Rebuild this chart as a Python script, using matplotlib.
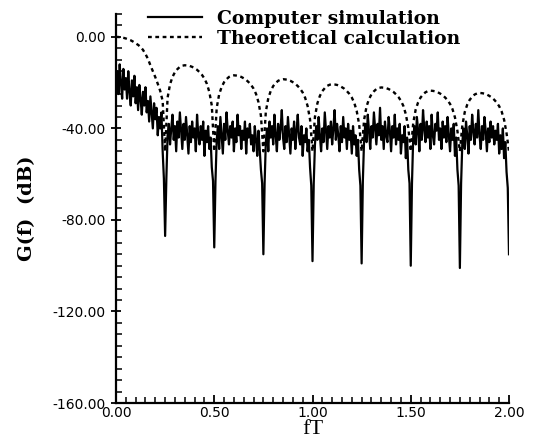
import numpy as np
import matplotlib
matplotlib.use("Agg")
import matplotlib.pyplot as plt
from matplotlib.ticker import MultipleLocator

# ---- data ----
# theoretical curve, sampled every 0.0125 in fT (nulls at multiples of 0.25)
theo_main = [0, -0.05, -0.2, -0.4, -0.7, -1.1, -1.5, -2.1, -2.8, -3.5,
             -4.4, -5.7, -7.5, -9.6, -12.4, -15.0, -17.6, -20.5, -23.6, -28.0]
theo_null = -50
theo_lobe1 = [-26.6, -20.7, -17.5, -15.4, -14.1, -13.1, -12.6, -12.4, -12.5, -12.7,
              -13.1, -13.7, -14.4, -15.4, -16.6, -18.2, -20.5, -24.1, -30.0]
theo_lobe2 = [-31.0, -25.1, -21.9, -19.8, -18.5, -17.5, -17.0, -16.8, -16.9, -17.1,
              -17.5, -18.1, -18.8, -19.8, -21.0, -22.6, -24.9, -28.5, -34.4]
theo_lobe3 = [-32.7, -26.8, -23.6, -21.5, -20.2, -19.2, -18.7, -18.5, -18.6, -18.8,
              -19.2, -19.8, -20.5, -21.5, -22.7, -24.3, -26.6, -30.2, -36.1]
theo_lobe4 = [-34.9, -29.0, -25.8, -23.7, -22.4, -21.4, -20.9, -20.7, -20.8, -21.0,
              -21.4, -22.0, -22.7, -23.7, -24.9, -26.5, -28.8, -32.4, -38.3]
theo_lobe5 = [-36.3, -30.4, -27.2, -25.1, -23.8, -22.8, -22.3, -22.1, -22.2, -22.4,
              -22.8, -23.4, -24.1, -25.1, -26.3, -27.9, -30.2, -33.8, -39.7]
theo_lobe6 = [-37.7, -31.8, -28.6, -26.5, -25.2, -24.2, -23.7, -23.5, -23.6, -23.8,
              -24.2, -24.8, -25.5, -26.5, -27.7, -29.3, -31.6, -35.2, -41.1]
theo_lobe7 = [-38.7, -32.8, -29.6, -27.5, -26.2, -25.2, -24.7, -24.5, -24.6, -24.8,
              -25.2, -25.8, -26.5, -27.5, -28.7, -30.3, -32.6, -36.2, -42.1]

# computer simulation, sampled every 0.00625 in fT
sim_seg0 = [-22, -15, -25, -12, -20, -27, -14, -23, -18, -27, -15, -24, -30, -19, -26, -17,
            -29, -22, -32, -21, -27, -34, -24, -30, -22, -33, -28, -37, -26, -33, -40, -29,
            -36, -31, -43, -35, -40, -33, -50, -62]
sim_seg1 = [-87, -62, -43, -38, -47, -40, -34, -45, -39, -50, -37, -44, -33, -41, -49, -38,
            -45, -35, -43, -51, -39, -46, -37, -44, -40, -50, -34, -43, -47, -39, -45, -37,
            -52, -41, -46, -39, -49, -44, -57, -63]
sim_seg2 = [-92, -63, -45, -39, -49, -35, -43, -51, -38, -45, -33, -41, -47, -39, -44, -37,
            -50, -40, -46, -34, -43, -39, -49, -41, -45, -37, -51, -40, -44, -38, -47, -43,
            -50, -39, -45, -52, -41, -49, -58, -64]
sim_seg3 = [-95, -64, -46, -40, -50, -37, -44, -39, -47, -34, -43, -50, -38, -45, -40, -32,
            -44, -49, -39, -46, -35, -43, -51, -40, -45, -37, -49, -41, -34, -44, -47, -39,
            -52, -43, -46, -40, -50, -45, -57, -65]
sim_seg4 = [-98, -64, -47, -39, -45, -35, -43, -50, -40, -46, -33, -41, -49, -39, -44, -37,
            -47, -40, -32, -45, -38, -43, -50, -39, -46, -35, -44, -40, -49, -38, -45, -41,
            -51, -39, -47, -43, -52, -45, -58, -65]
sim_seg5 = [-99, -63, -45, -38, -46, -34, -41, -49, -39, -44, -33, -40, -47, -38, -43, -31,
            -45, -39, -49, -37, -43, -46, -35, -41, -50, -39, -44, -34, -47, -40, -45, -38,
            -51, -43, -46, -39, -53, -44, -58, -64]
sim_seg6 = [-100, -64, -44, -39, -47, -35, -41, -50, -38, -45, -32, -40, -46, -37, -44, -39,
            -49, -34, -43, -47, -38, -41, -33, -45, -40, -49, -37, -44, -39, -46, -35, -43,
            -50, -40, -45, -38, -52, -44, -58, -65]
sim_seg7 = [-101, -64, -46, -40, -49, -37, -43, -51, -39, -45, -34, -41, -47, -38, -44, -32,
            -43, -49, -39, -45, -35, -41, -50, -40, -46, -37, -44, -39, -47, -41, -45, -38,
            -51, -43, -49, -40, -53, -46, -59, -66]
sim_end = -95

yticks = [0, -40, -80, -120, -160]
ytick_labels = ["0.00", "-40.00", "-80.00", "-120.00", "-160.00"]
xticks = [0, 0.5, 1.0, 1.5, 2.0]
xtick_labels = ["0.00", "0.50", "1.00", "1.50", "2.00"]

theo = (theo_main + [theo_null] + theo_lobe1 + [theo_null] + theo_lobe2 + [theo_null]
        + theo_lobe3 + [theo_null] + theo_lobe4 + [theo_null] + theo_lobe5 + [theo_null]
        + theo_lobe6 + [theo_null] + theo_lobe7 + [theo_null])
theo_f = np.linspace(0, 2, len(theo))

sim = (sim_seg0 + sim_seg1 + sim_seg2 + sim_seg3 + sim_seg4 + sim_seg5
       + sim_seg6 + sim_seg7 + [sim_end])
sim_f = np.linspace(0, 2, len(sim))

fig = plt.figure(figsize=(5.35, 4.44), dpi=100)
ax = fig.add_axes([116/535, 1-403/444, 393/535, 389/444])

ax.plot(sim_f, sim, color="black", lw=1.6, label="Computer simulation")
ax.plot(theo_f, theo, color="black", lw=1.7, linestyle=(0, (1.6, 1.5)),
        label="Theoretical calculation")

ax.set_xlim(0, 2)
ax.set_ylim(-160, 10)
ax.spines["top"].set_visible(False)
ax.spines["right"].set_visible(False)
ax.spines["left"].set_linewidth(1.6)
ax.spines["bottom"].set_linewidth(1.6)

ax.set_yticks(yticks)
ax.set_yticklabels(ytick_labels)
ax.set_xticks(xticks)
ax.set_xticklabels(xtick_labels)
ax.yaxis.set_minor_locator(MultipleLocator(5))
ax.xaxis.set_minor_locator(MultipleLocator(0.05))
ax.tick_params(axis="y", which="major", direction="inout", length=7, width=1.3,
               labelsize=10, pad=4)
ax.tick_params(axis="x", which="major", direction="in", length=6, width=1.3,
               labelsize=10, pad=2)
ax.tick_params(which="minor", direction="in", length=4, width=1.1)

ax.set_ylabel("G(f)  (dB)", family="DejaVu Serif", fontweight="bold", fontsize=14, labelpad=12)
ax.set_xlabel("fT", family="Liberation Serif", fontsize=16, labelpad=0)

ax.legend(loc="upper left", bbox_to_anchor=(148/535, 1-10/444), bbox_transform=fig.transFigure,
          frameon=False, borderpad=0, borderaxespad=0, handlelength=2.9, handletextpad=0.8,
          labelspacing=0.1, prop={"family": "DejaVu Serif", "weight": "bold", "size": 13.5})

plt.savefig("out.png", dpi=100)
